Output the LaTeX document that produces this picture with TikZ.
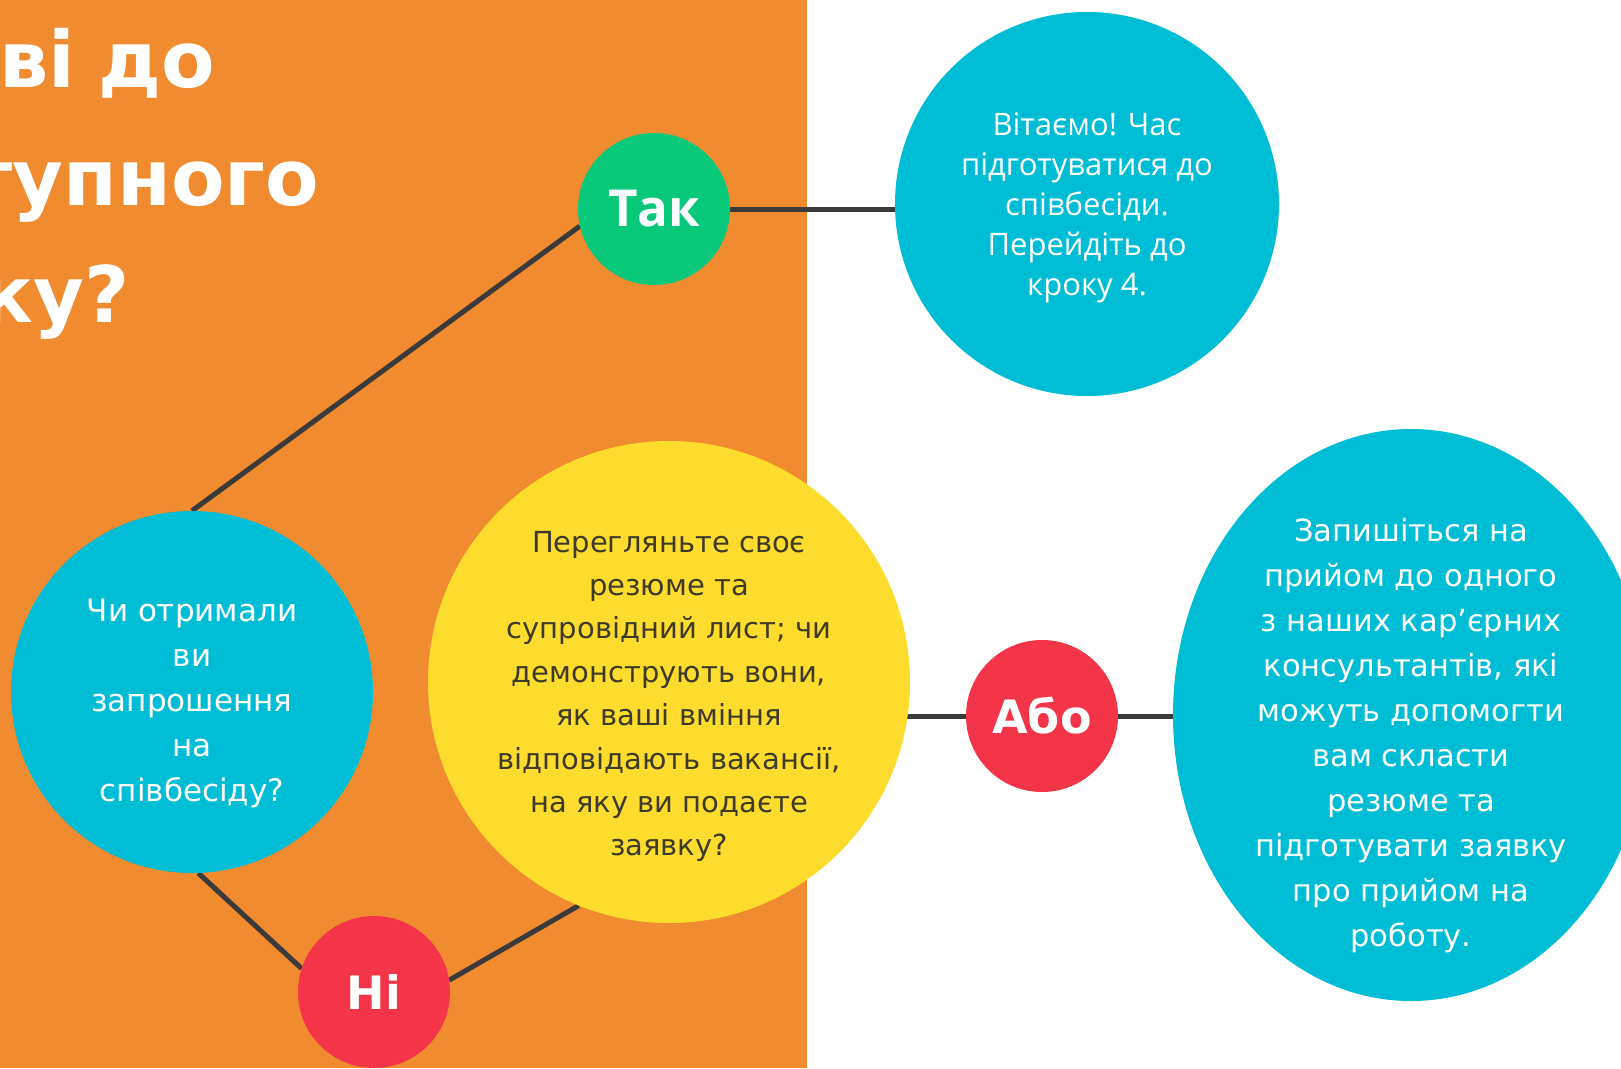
\documentclass[tikz,border=0pt]{standalone}
\usepackage{fontspec}
\setmainfont{DejaVu Sans}
\newfontfamily\opensans{Open Sans}
\usepackage{xcolor}
\usetikzlibrary{shapes.geometric, positioning, backgrounds}
\definecolor{panelorange}{HTML}{F18B30}
\definecolor{bubblecyan}{HTML}{00BDD6}
\definecolor{yesgreen}{HTML}{08C97A}
\definecolor{altred}{HTML}{F43448}
\definecolor{tipyellow}{HTML}{FDDC2E}
\definecolor{linkgray}{HTML}{3A3A3A}
\definecolor{darktext}{HTML}{3D3A28}

\begin{document}
\begin{tikzpicture}[
  x=1pt, y=-1pt,
  every node/.style={inner sep=0pt, align=center},
  bubble/.style={circle, fill=bubblecyan, text=white},
  answer/.style={circle, minimum size=152pt, text=white, font=\fontsize{46}{46}\selectfont\bfseries},
  heading/.style={anchor=base west, text=white, font=\fontsize{78}{78}\selectfont\bfseries},
  link/.style={line width=5pt, draw=linkgray}
]
\useasboundingbox (0,0) rectangle (1621,1068);
\clip (0,0) rectangle (1621,1068);

% === TITLE (cut at the left edge) ===
\node[heading] (title1) at (-1,87) {ві\hspace{-4pt} до};
\node[heading] (title2) at (-33,205) {тупного};
\node[heading] (title3) at (-20,322) {ку?};

% === QUESTION AND ANSWERS ===
\node[bubble, minimum size=362pt, font=\fontsize{31}{45}\selectfont] (question) at (192,692)
  {\rule{0pt}{46pt}Чи отримали\\ви\\запрошення\\на\\співбесіду?};

\node[answer, fill=yesgreen, font=\opensans\fontsize{51}{51}\selectfont\bfseries] (tak) at (654,209) {Так};
\node[answer, fill=altred] (ni) at (374,992) {Ні};

\node[bubble, minimum size=384pt, font=\opensans\fontsize{31}{40}\selectfont] (welcome) at (1087,204)
  {\rule{0pt}{30pt}Вітаємо! Час\\підготуватися до\\співбесіди.\\Перейдіть до\\кроку 4.};

\node[circle, fill=tipyellow, text=darktext, minimum size=482pt, inner sep=-40pt,
      font=\fontsize{29}{43.4}\selectfont] (review) at (669,682)
  {\rule{0pt}{50pt}Перегляньте своє\\резюме та\\супровідний лист; чи\\демонструють вони,\\як ваші вміння\\відповідають вакансії,\\на яку ви подаєте\\заявку?};

\node[answer, fill=altred] (abo) at (1042,716) {Або};

\node[bubble, ellipse, minimum width=476pt, minimum height=572pt, inner sep=-50pt,
      font=\fontsize{30.5}{45}\selectfont] (consult) at (1411,715)
  {\rule{0pt}{64pt}Запишіться на\\прийом до одного\\з наших кар’єрних\\консультантів, які\\можуть допомогти\\вам скласти\\резюме та\\підготувати заявку\\про прийом на\\роботу.};

% === BACKGROUND PANEL AND LINKS ===
\begin{scope}[on background layer]
  \fill[panelorange] (0,0) rectangle (807,1068);
  \draw[link] (question.north) -- (tak.193);
  \draw[link] (tak.east) -- (tak.east -| welcome.west);
  \draw[link] (question.272) -- (ni.162);
  \draw[link] (ni.9) -- (review.248);
  \draw[link] (abo.west) -- (abo.west -| review.center);
  \draw[link] (abo.east) -- (abo.east -| consult.center);
\end{scope}

\end{tikzpicture}
\end{document}
